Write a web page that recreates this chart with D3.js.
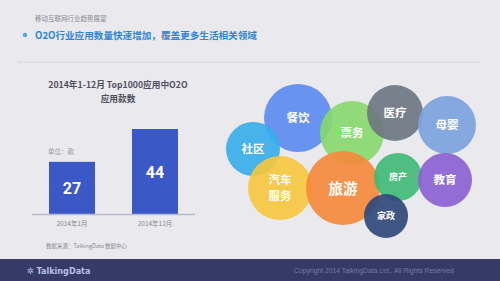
<!DOCTYPE html>
<html>
<head>
<meta charset="utf-8">
<script src="https://cdn.jsdelivr.net/npm/d3@7"></script>
<style>
body{margin:0;padding:0;background:#e9e9ee;}
svg{display:block;font-family:"Noto Sans CJK SC","Noto Sans",sans-serif;}
</style>
</head>
<body>
<svg width="500" height="281"></svg>
<script>
// bar data
var months = ["2014年1月", "2014年12月"];
var counts = [27, 44];

// bubble data
var fields = ["餐饮", "社区", "票务", "医疗", "母婴", "汽车服务", "旅游", "房产", "教育", "家政"];
var bubbleSize = [34, 27, 32, 28, 29, 32, 37, 24, 27, 22];
var bubbleX = [298, 253, 352, 395, 447, 280, 343, 398, 445, 386];
var bubbleY = [118, 149, 133, 113, 125, 188, 188, 177, 180, 216];
var bubbleColor = ["#5a8bf0", "#35ade9", "#86d86c", "#6c7580", "#7aa2dc", "#f6c73c", "#f5883a", "#3dba74", "#8a5fd2", "#2c4679"];

var svg = d3.select("svg");
var W = 500, H = 281;

svg.append("rect").attr("width", W).attr("height", H).style("fill", "#e9e9ee");

// header
svg.append("text")
	.attr("x", 35).attr("y", 21)
	.attr("fill", "#8a8a92")
	.attr("font-size", 6.5)
	.text("移动互联网行业趋势展望");
svg.append("circle").attr("cx", 25).attr("cy", 35).attr("r", 2.2).style("fill", "#4aa7e0");
svg.append("text")
	.attr("x", 35).attr("y", 38.5)
	.attr("fill", "#2f86d8")
	.attr("font-size", 9.6)
	.attr("font-weight", "bold")
	.text("O2O行业应用数量快速增加，覆盖更多生活相关领域");
svg.append("line")
	.attr("x1", 18).attr("x2", 480).attr("y1", 62).attr("y2", 62)
	.style("stroke", "#c4c4cc").style("stroke-width", 1).style("stroke-dasharray", "1,1");

// bar chart
var x = d3.scaleBand().domain(months).range([32, 195]).paddingInner(0.446).paddingOuter(0.205);
var y = d3.scaleLinear().domain([0, 44]).range([214, 129]);

svg.append("text").attr("x", 118).attr("y", 88)
	.attr("text-anchor", "middle").attr("font-size", 8.7).attr("font-weight", "bold").attr("fill", "#505060")
	.text("2014年1-12月 Top1000应用中O2O");
svg.append("text").attr("x", 118).attr("y", 102)
	.attr("text-anchor", "middle").attr("font-size", 8.7).attr("font-weight", "bold").attr("fill", "#505060")
	.text("应用款数");

svg.append("text").attr("x", 48).attr("y", 154)
	.attr("font-size", 6.5).attr("fill", "#9a9aa2")
	.text("单位：款");

svg.selectAll(".bar").data(counts).enter().append("rect")
	.attr("class", "bar")
	.attr("x", function(d, i){ return x(months[i]); })
	.attr("width", x.bandwidth())
	.attr("y", function(d){ return y(d); })
	.attr("height", function(d){ return y(0) - y(d); })
	.style("fill", "#3a58c6");

svg.selectAll(".val").data(counts).enter().append("text")
	.attr("class", "val")
	.attr("x", function(d, i){ return x(months[i]) + x.bandwidth() / 2; })
	.attr("y", function(d){ return y(d) + (y(0) - y(d)) / 2 + 6; })
	.attr("text-anchor", "middle")
	.attr("font-size", 16).attr("font-weight", "bold").attr("fill", "#ffffff")
	.attr("font-family", "Roboto, 'Noto Sans', sans-serif")
	.text(function(d){ return d; });

var ax = svg.append("g").attr("transform", "translate(0," + y(0) + ")")
	.call(d3.axisBottom(x).tickSize(0).tickPadding(7));
ax.select(".domain").attr("d", "M32,0.5H195").style("stroke", "#b8bcc8").style("stroke-width", 1.5);
ax.selectAll("text").attr("font-size", 6.5).attr("fill", "#8a8a92")
	.attr("font-family", "'Noto Sans CJK SC', sans-serif");

// bubbles
var g = svg.append("g");
fields.forEach(function(f, i){
	g.append("circle")
		.attr("cx", bubbleX[i]).attr("cy", bubbleY[i]).attr("r", bubbleSize[i])
		.style("fill", bubbleColor[i]).style("opacity", 0.9);
});
fields.forEach(function(f, i){
	var fs = bubbleSize[i] >= 36 ? 14.5 : (bubbleSize[i] < 25 ? 9 : 11.5);
	var lines = f.length > 2 ? [f.slice(0, 2), f.slice(2)] : [f];
	lines.forEach(function(t, j){
		g.append("text")
			.attr("x", bubbleX[i])
			.attr("y", bubbleY[i] + fs * 0.38 + (j - (lines.length - 1) / 2) * fs * 1.4)
			.attr("text-anchor", "middle")
			.attr("font-size", fs).attr("font-weight", "bold").attr("fill", "#ffffff")
			.text(t);
	});
});

// source
svg.append("text").attr("x", 46).attr("y", 248)
	.attr("font-size", 5.5).attr("fill", "#8a8a92")
	.text("数据来源：TalkingData 数据中心");

// footer
svg.append("rect").attr("x", 0).attr("y", 259).attr("width", W).attr("height", 22).style("fill", "#353a66");
svg.append("text").attr("x", 27).attr("y", 274)
	.attr("font-size", 9).attr("font-weight", "bold").attr("fill", "#b8c0e8")
	.attr("font-family", "'DejaVu Sans Condensed', 'Liberation Sans Narrow', sans-serif")
	.text("✲ TalkingData");
svg.append("text").attr("x", 294).attr("y", 273)
	.attr("font-size", 6.8).attr("fill", "#767ba3")
	.attr("font-family", "'Liberation Sans', Arial, sans-serif")
	.text("Copyright 2014 TalkingData Ltd., All Rights Reserved");
</script>
</body>
</html>
